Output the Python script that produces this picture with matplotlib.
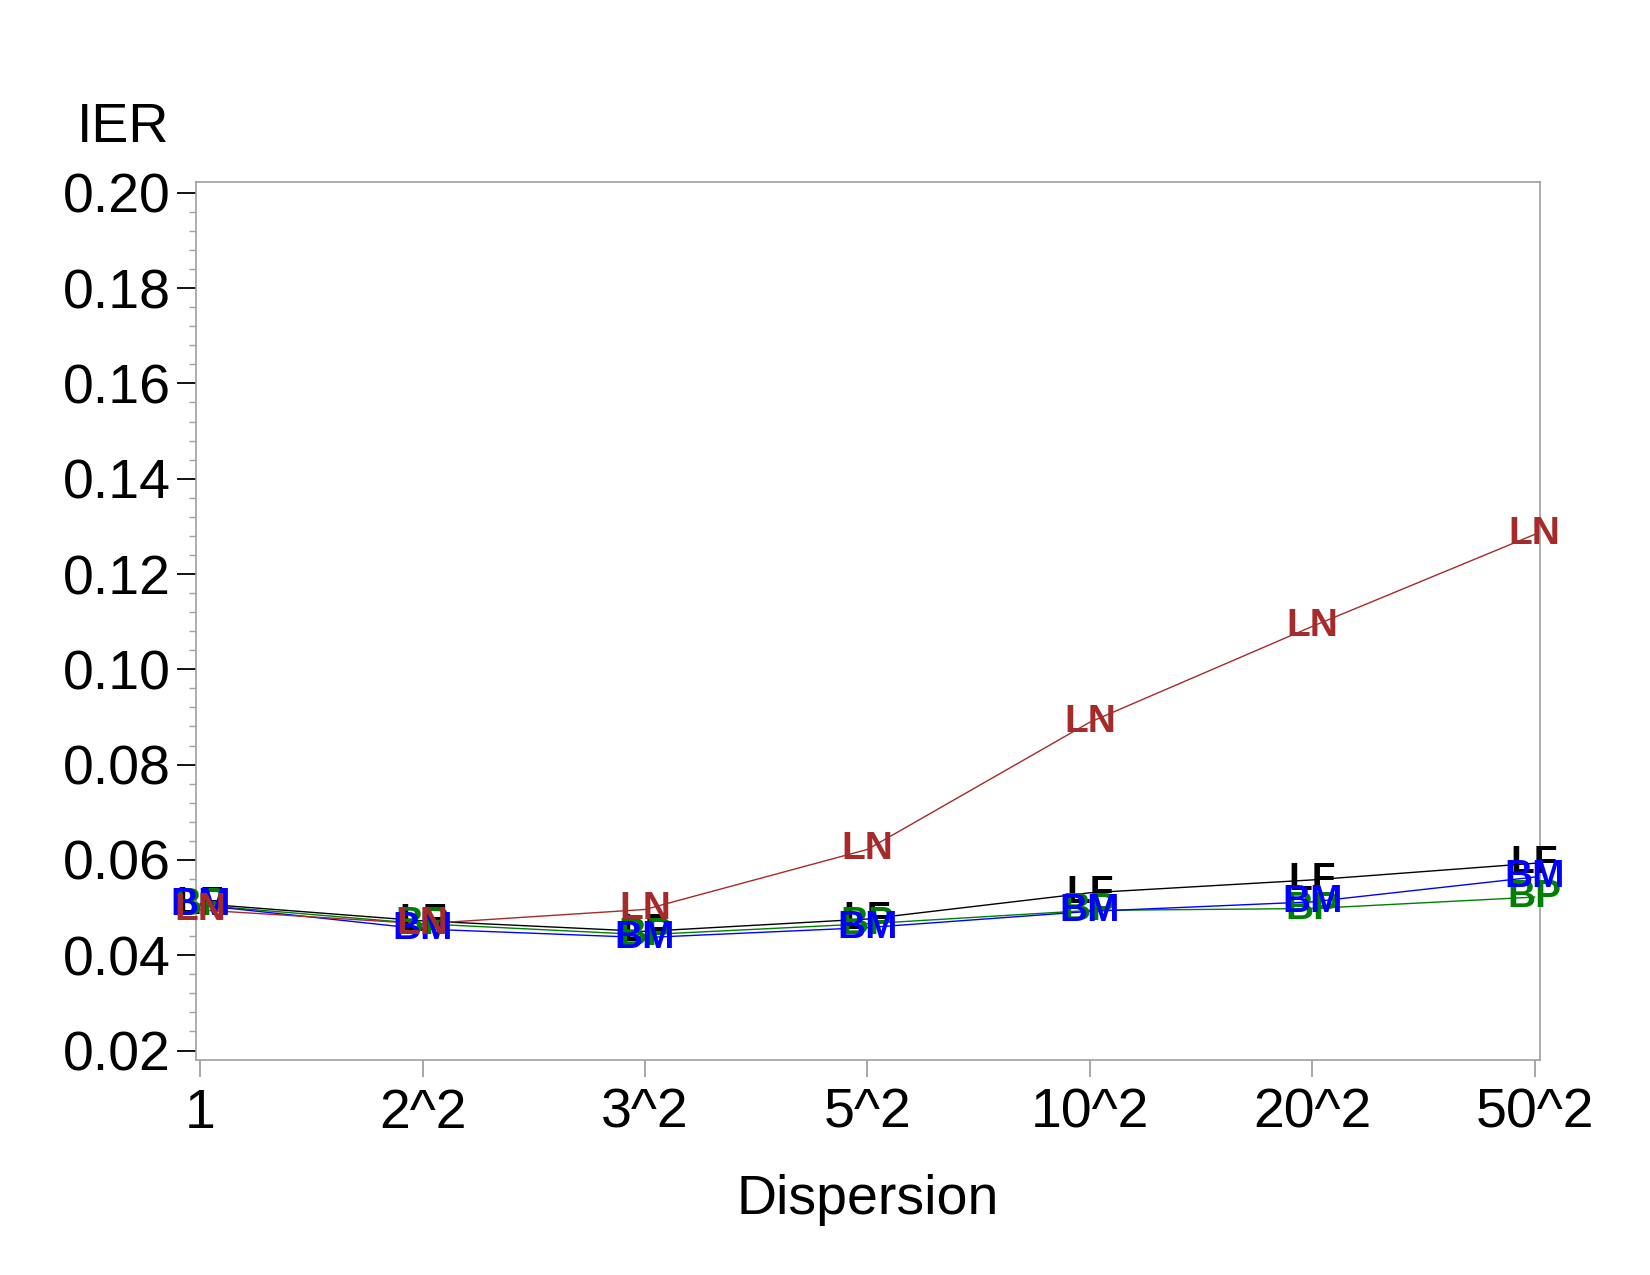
import numpy as np
import matplotlib.pyplot as plt
from matplotlib.ticker import MultipleLocator

plt.rcParams['font.family'] = ['Liberation Sans', 'DejaVu Sans']

dispersion = ['1', '2^2', '3^2', '5^2', '10^2', '20^2', '50^2']
ier_lf = [0.0508, 0.0472, 0.0450, 0.0476, 0.0531, 0.0558, 0.0593]
ier_bp = [0.0505, 0.0466, 0.0443, 0.0466, 0.0494, 0.0498, 0.0522]
ier_bm = [0.0505, 0.0455, 0.0437, 0.0458, 0.0492, 0.0512, 0.0564]
ier_ln = [0.0495, 0.0466, 0.0496, 0.0622, 0.0889, 0.1090, 0.1283]

series = [('LF', ier_lf, 'black'),
          ('BP', ier_bp, '#008000'),
          ('BM', ier_bm, '#0000ff'),
          ('LN', ier_ln, '#a52a2a')]

fig = plt.figure(figsize=(16.5, 12.75), dpi=100)
ax = fig.add_axes([0.1188, 0.1686, 0.8145, 0.6884])

x = np.arange(len(dispersion))
for name, vals, col in series:
    ax.plot(x, vals, color=col, linewidth=1.0, zorder=2)
for name, vals, col in series:
    for xi, yi in zip(x, vals):
        ax.text(xi, yi, name, color=col, fontsize=28, fontweight='bold',
                ha='center', va='center', zorder=3)

ax.set_xlim(-0.019, 6.024)
ax.set_ylim(0.018, 0.2022)
ax.set_xticks(x)
ax.set_xticklabels(dispersion)
ax.yaxis.set_major_locator(MultipleLocator(0.02))
ax.yaxis.set_minor_locator(MultipleLocator(0.004))
ax.set_yticklabels(['%.2f' % v for v in ax.get_yticks()])
ax.set_ylim(0.018, 0.2022)

for s in ax.spines.values():
    s.set_color('#a0a0a0')
    s.set_linewidth(1.2)
ax.tick_params(axis='y', which='major', length=14, width=1.3, color='black', labelsize=40, pad=4)
ax.tick_params(axis='y', which='minor', length=5, width=1, color='#a0a0a0')
ax.tick_params(axis='x', which='major', length=12, width=1.3, color='#a0a0a0', labelsize=40, pad=8)

fig.text(0.0745, 0.8996, 'IER', fontsize=40, ha='center', va='center')
fig.text(0.526, 0.059, 'Dispersion', fontsize=40, ha='center', va='center')

fig.savefig('out.png', dpi=100)
